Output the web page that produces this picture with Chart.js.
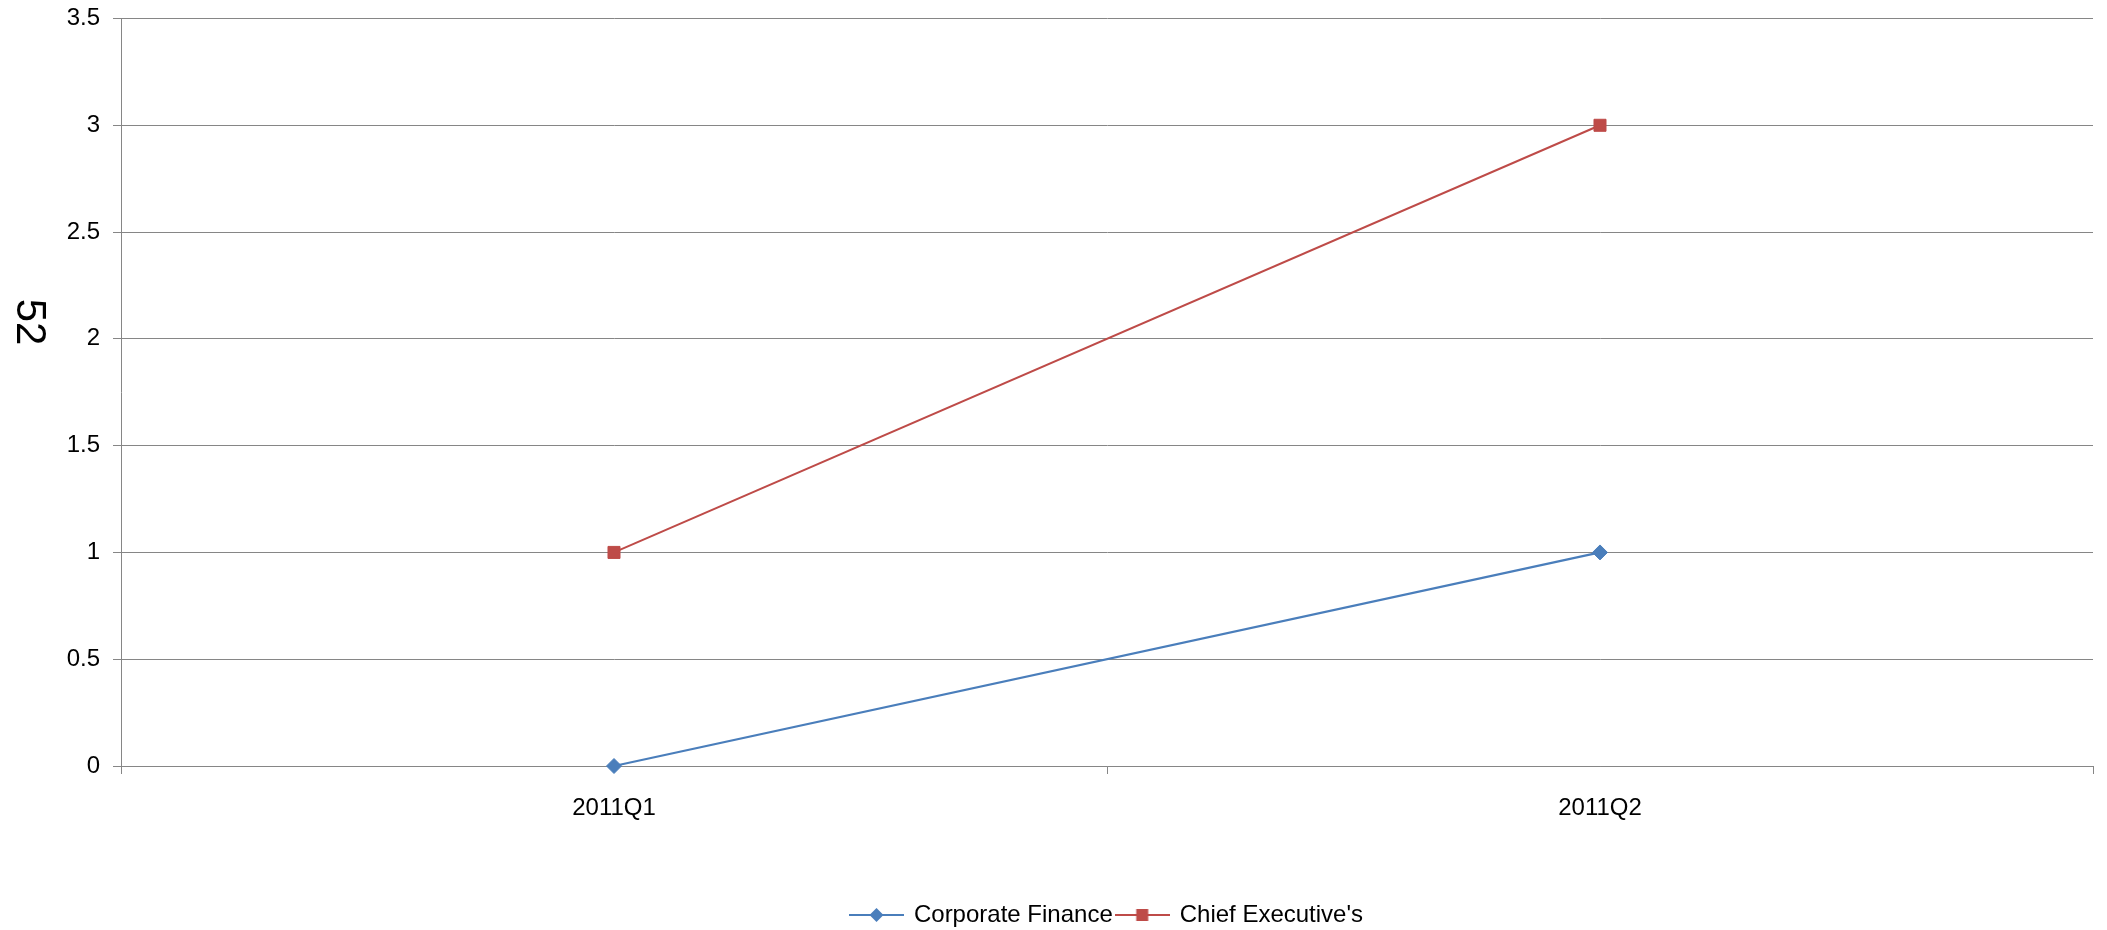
<!DOCTYPE html>
<html>
<head>
<meta charset="utf-8">
<title>52</title>
<script src="https://cdn.jsdelivr.net/npm/chart.js@4/dist/chart.umd.min.js"></script>
<style>
  html, body { margin: 0; padding: 0; background: #fff; }
  #wrap { width: 2107px; height: 930px; }
</style>
</head>
<body>
<div id="wrap"><canvas id="chart" width="2107" height="930"></canvas></div>
<script>
// quarters on the x axis
const quarters = ['2011Q1', '2011Q2']
// series values
const corporateFinance = [0, 1]
const chiefExecutives = [1, 3]
// y axis range
const yMin = 0
const yMax = 3.5
const yStep = 0.5

const blue = '#4a7ebb'
const red = '#be4b48'
const gridGray = '#868686'
const fontFamily = '"Liberation Sans", Arial, sans-serif'

// legend swatch: short line with the series marker in the middle
function legendIcon(color, shape) {
  const c = document.createElement('canvas')
  c.width = 55
  c.height = 16
  const g = c.getContext('2d')
  g.strokeStyle = color
  g.lineWidth = 2
  g.beginPath()
  g.moveTo(0, 8)
  g.lineTo(55, 8)
  g.stroke()
  g.fillStyle = color
  g.beginPath()
  if (shape === 'diamond') {
    g.moveTo(27.5, 1)
    g.lineTo(34.5, 8)
    g.lineTo(27.5, 15)
    g.lineTo(20.5, 8)
    g.closePath()
  } else {
    g.rect(21.5, 2, 12, 12)
  }
  g.fill()
  return c
}

// rotated axis title on the left
const sideTitle = {
  id: 'sideTitle',
  afterDraw(chart) {
    const ctx = chart.ctx
    ctx.save()
    ctx.translate(29, 322)
    ctx.rotate(Math.PI / 2)
    ctx.font = '42px ' + fontFamily
    ctx.fillStyle = '#000'
    ctx.textAlign = 'center'
    ctx.textBaseline = 'middle'
    ctx.fillText('52', 0, 0)
    ctx.restore()
  }
}

const ctx = document.getElementById('chart').getContext('2d')
new Chart(ctx, {
  type: 'line',
  data: {
    labels: quarters,
    datasets: [{
      label: 'Corporate Finance',
      data: corporateFinance,
      borderColor: blue,
      backgroundColor: blue,
      borderWidth: 2.25,
      pointStyle: 'rectRot',
      pointRadius: 7.5,
      pointBorderWidth: 1,
      clip: false,
      tension: 0
    }, {
      label: "Chief Executive's",
      data: chiefExecutives,
      borderColor: red,
      backgroundColor: red,
      borderWidth: 2,
      pointStyle: 'rect',
      pointRadius: 8.5,
      pointBorderWidth: 1,
      clip: false,
      tension: 0
    }]
  },
  options: {
    responsive: false,
    animation: false,
    layout: {
      padding: { top: 18.5, right: 14, bottom: -7, left: 0 }
    },
    plugins: {
      tooltip: { enabled: false },
      legend: {
        position: 'bottom',
        fullSize: false,
        labels: {
          usePointStyle: true,
          pointStyleWidth: 51,
          padding: 4,
          color: '#000',
          font: { family: fontFamily, size: 24 },
          generateLabels(chart) {
            return chart.data.datasets.map((ds, i) => ({
              text: ds.label,
              pointStyle: legendIcon(ds.borderColor, i === 0 ? 'diamond' : 'square'),
              fillStyle: ds.borderColor,
              strokeStyle: ds.borderColor,
              lineWidth: 0,
              fontColor: '#000',
              datasetIndex: i
            }))
          }
        }
      }
    },
    scales: {
      x: {
        type: 'category',
        offset: true,
        afterFit(scale) { scale.height = 133 },
        grid: {
          offset: true,
          drawOnChartArea: false,
          drawTicks: true,
          tickLength: 8,
          color: gridGray
        },
        border: { display: true, color: gridGray, width: 1 },
        ticks: {
          color: '#000',
          padding: 20,
          maxRotation: 0,
          font: { family: fontFamily, size: 24 }
        }
      },
      y: {
        min: yMin,
        max: yMax,
        afterFit(scale) {
          scale.width = 121
          scale.paddingTop = 0
          scale.paddingBottom = 0
        },
        grid: {
          color: gridGray,
          tickLength: 8,
          lineWidth: 1
        },
        border: { display: true, color: gridGray, width: 1 },
        ticks: {
          stepSize: yStep,
          color: '#000',
          padding: 13,
          font: { family: fontFamily, size: 24 },
          callback: value => String(value)
        }
      }
    }
  },
  plugins: [sideTitle]
})
</script>
</body>
</html>
